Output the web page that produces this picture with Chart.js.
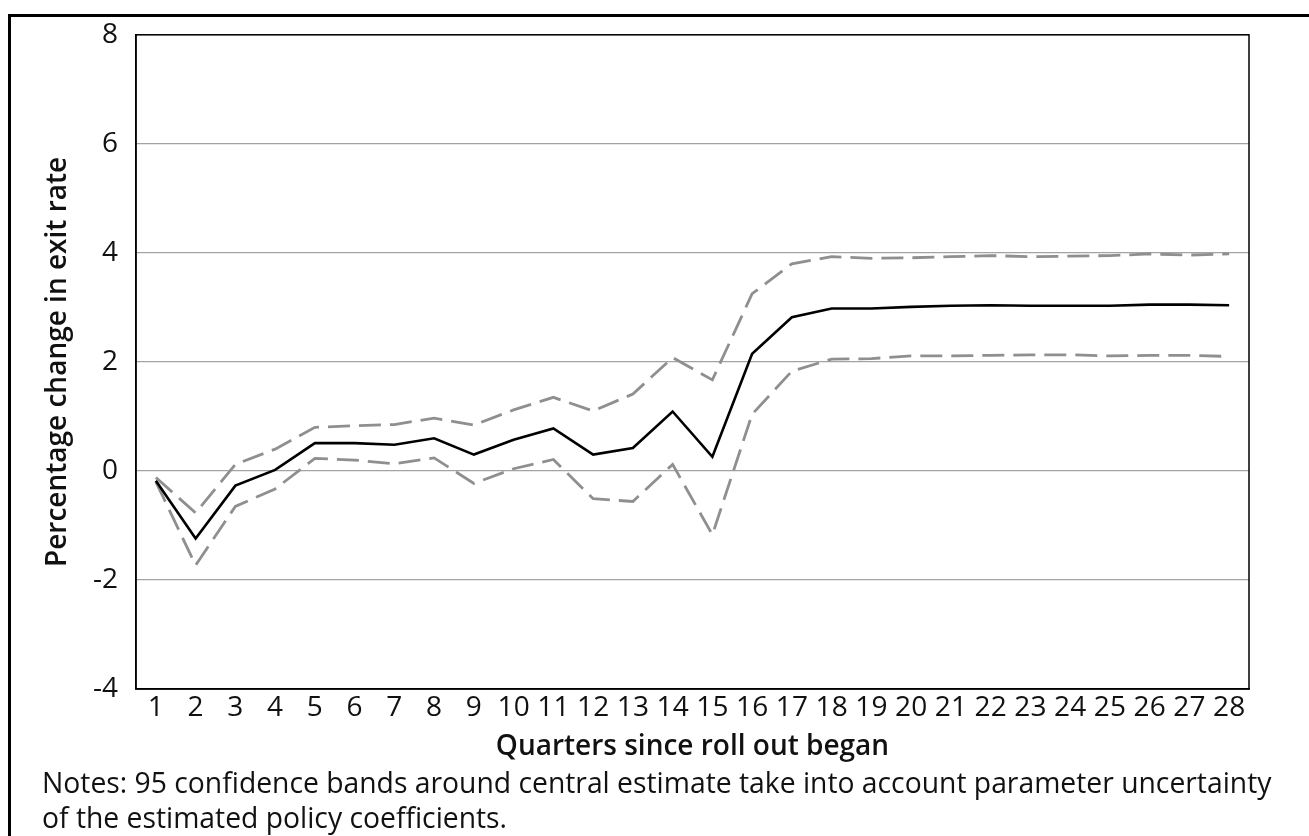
<!DOCTYPE html>
<html>
<head>
<meta charset="utf-8">
<script src="https://cdn.jsdelivr.net/npm/chart.js@4/dist/chart.umd.min.js"></script>
<style>
  html, body { margin: 0; padding: 0; background: #fff; }
  #wrap { position: relative; width: 1309px; height: 836px; overflow: hidden; }
  #frame { position: absolute; left: 8px; top: 14px; width: 1400px; height: 900px;
           border-left: 3px solid #000; border-top: 3px solid #000; box-sizing: border-box; }
  canvas { position: absolute; left: 0; top: 0; }
  #notes { position: absolute; left: 42px; top: 765px; font-family: "Open Sans", sans-serif;
           font-size: 28.3px; line-height: 35px; color: #111; white-space: nowrap; }
</style>
</head>
<body>
<div id="wrap">
  <div id="frame"></div>
  <canvas id="c" width="1309" height="836"></canvas>
  <div id="notes">Notes: 95 confidence bands around central estimate take into account parameter uncertainty<br>of the estimated policy coefficients.</div>
</div>
<script>
// Quarters since the roll out began
const quarters = ['1','2','3','4','5','6','7','8','9','10','11','12','13','14',
                  '15','16','17','18','19','20','21','22','23','24','25','26','27','28'];

// Central estimate of the percentage change in exit rate
const centralEstimate = [-0.18, -1.24, -0.27, 0.02, 0.51, 0.51, 0.48, 0.60, 0.30, 0.57,
                         0.78, 0.30, 0.42, 1.09, 0.26, 2.15, 2.82, 2.98, 2.98, 3.01,
                         3.03, 3.04, 3.03, 3.03, 3.03, 3.05, 3.05, 3.04];

// Upper 95% confidence band
const upperBand = [-0.12, -0.77, 0.12, 0.40, 0.80, 0.83, 0.85, 0.97, 0.84, 1.12,
                   1.35, 1.10, 1.41, 2.08, 1.67, 3.25, 3.80, 3.93, 3.90, 3.91,
                   3.93, 3.95, 3.93, 3.94, 3.95, 3.98, 3.96, 3.98];

// Lower 95% confidence band
const lowerBand = [-0.20, -1.73, -0.65, -0.33, 0.23, 0.20, 0.13, 0.24, -0.23, 0.04,
                   0.21, -0.51, -0.56, 0.12, -1.17, 1.04, 1.83, 2.05, 2.06, 2.11,
                   2.11, 2.12, 2.13, 2.13, 2.11, 2.12, 2.12, 2.10];

// Value axis range
const yMin = -4, yMax = 8, yStep = 2;

const FONT = '"Open Sans", sans-serif';

// Plot frame on all four sides of the chart area
const plotFrame = {
  id: 'plotFrame',
  afterDatasetsDraw(chart) {
    const {ctx, chartArea: a} = chart;
    ctx.save();
    ctx.strokeStyle = '#000';
    ctx.lineWidth = 1.5;
    ctx.strokeRect(a.left, a.top, a.right - a.left, a.bottom - a.top);
    ctx.restore();
  }
};

new Chart(document.getElementById('c'), {
  type: 'line',
  data: {
    labels: quarters,
    datasets: [
      { label: 'Central estimate', data: centralEstimate, borderColor: '#000',
        borderWidth: 2.6, pointRadius: 0, tension: 0, order: 0 },
      { label: 'Upper band', data: upperBand, borderColor: '#8f8f8f',
        borderWidth: 2.8, borderDash: [22, 9], pointRadius: 0, tension: 0, order: 1 },
      { label: 'Lower band', data: lowerBand, borderColor: '#8f8f8f',
        borderWidth: 2.8, borderDash: [22, 9], pointRadius: 0, tension: 0, order: 1 }
    ]
  },
  options: {
    responsive: false,
    animation: false,
    devicePixelRatio: 1,
    layout: { padding: { left: 0, top: 32, right: 60, bottom: 67 } },
    plugins: { legend: { display: false }, tooltip: { enabled: false } },
    scales: {
      x: {
        type: 'category',
        offset: true,
        grid: { display: false, drawTicks: false },
        border: { color: '#000', width: 1.5 },
        ticks: { color: '#111', font: { family: FONT, size: 28 }, padding: 2,
                 autoSkip: false, maxRotation: 0, minRotation: 0 },
        title: { display: true, text: 'Quarters since roll out began', color: '#111',
                 font: { family: FONT, size: 28, weight: '600' }, padding: { top: 0, bottom: 5 } },
        afterFit(scale) { scale.height = 80; }
      },
      y: {
        min: yMin, max: yMax,
        grid: { color: '#a3a3a3', lineWidth: 1.3, drawTicks: false },
        border: { color: '#000', width: 1.5 },
        ticks: { stepSize: yStep, color: '#111', font: { family: FONT, size: 28 }, padding: 18 },
        title: { display: true, text: 'Percentage change in exit rate', color: '#111',
                 font: { family: FONT, size: 28, weight: '600' }, padding: { top: 41, bottom: 0 } },
        afterFit(scale) { scale.width = 136; }
      }
    }
  },
  plugins: [plotFrame]
});
</script>
</body>
</html>
